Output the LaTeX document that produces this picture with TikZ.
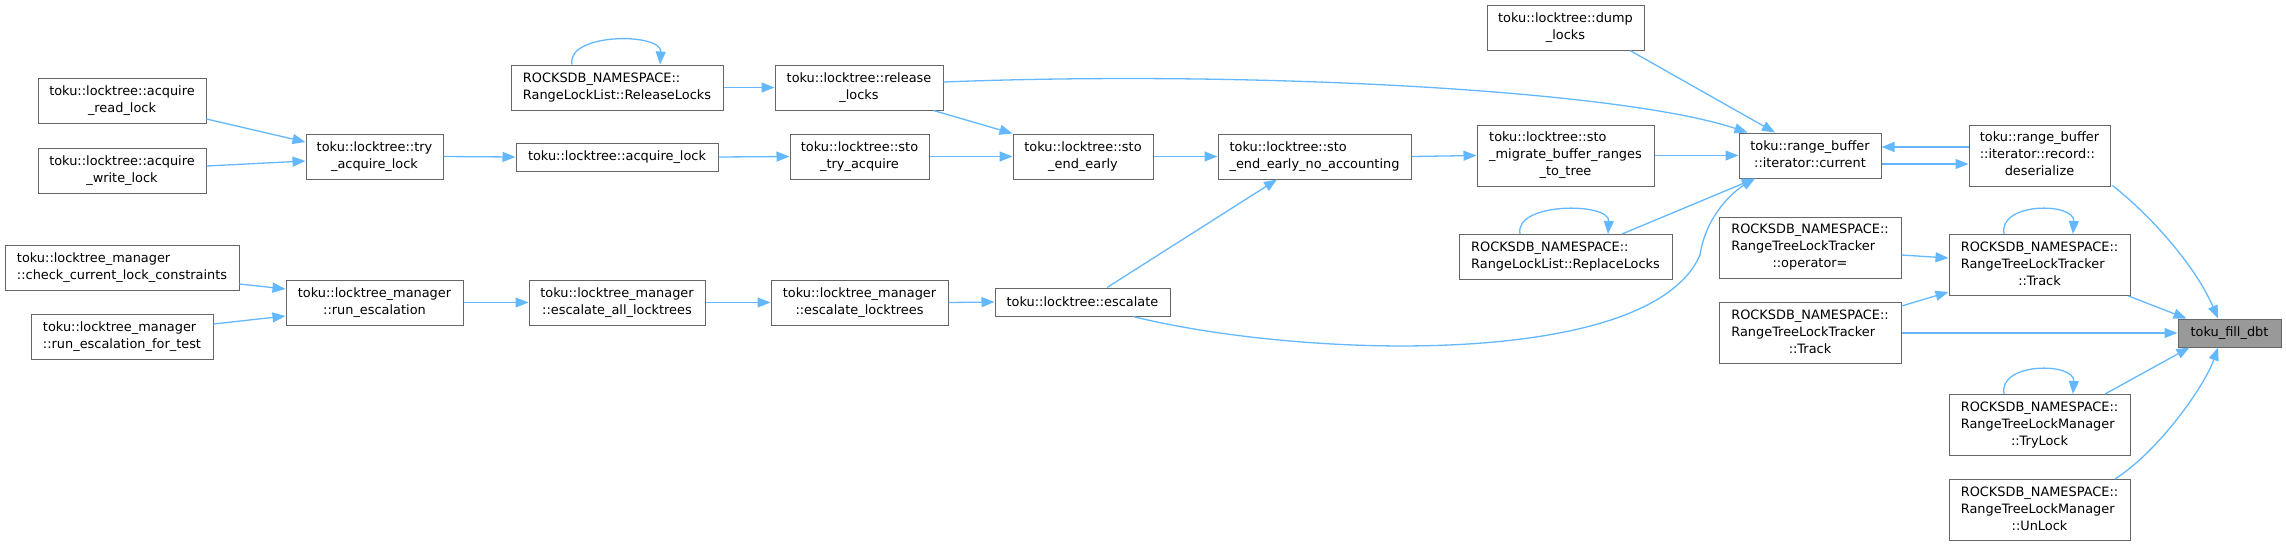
\documentclass[tikz,border=0pt]{standalone}
\usepackage{fontspec}
\setmainfont{DejaVu Sans}
\usepackage{xcolor}
\definecolor{cgink}{HTML}{000000}
\definecolor{cgrule}{HTML}{666666}
\definecolor{cghotfill}{HTML}{999999}
\definecolor{cgblue}{HTML}{63B8FF}
\usepackage{tikz}
\usetikzlibrary{arrows.meta,calc}
\newcommand{\twoln}[2]{\begin{tabular}{@{}l@{}}#1\\\multicolumn{1}{@{}c@{}}{#2}\end{tabular}}
\newcommand{\threeln}[3]{\begin{tabular}{@{}l@{}}#1\\#2\\\multicolumn{1}{@{}c@{}}{#3}\end{tabular}}
\tikzset{
  cgnode/.style ={rectangle, draw=cgrule, fill=white, line width=1pt, inner sep=0pt,
                  minimum height=45, text=cgink, font=\fontsize{12.9}{17}\selectfont},
  cgone/.style  ={cgnode, minimum height=28},
  cgthree/.style={cgnode, minimum height=61},
  cghot/.style  ={cgone, fill=cghotfill},
  cgedge/.style ={-{Triangle[length=13pt,width=10pt]}, line width=1.3pt, draw=cgblue},
}
\begin{document}
\begin{tikzpicture}[x=1pt,y=-1pt]
  \useasboundingbox (0,0) rectangle (2286,547);
  \node[cgnode, minimum width=168] (rdlock) at (122,100.5) {\twoln{toku::locktree::acquire}{\_read\_lock}};
  \node[cgnode, minimum width=168] (wrlock) at (122,170.5) {\twoln{toku::locktree::acquire}{\_write\_lock}};
  \node[cgnode, minimum width=137] (tryacq) at (374.5,156.5) {\twoln{toku::locktree::try}{\_acquire\_lock}};
  \node[cgnode, minimum width=234] (chkcur) at (122,267.5) {\twoln{toku::locktree\_manager}{::check\_current\_lock\_constraints}};
  \node[cgnode, minimum width=182] (runtest) at (122,336.5) {\twoln{toku::locktree\_manager}{::run\_escalation\_for\_test}};
  \node[cgnode, minimum width=177] (runesc) at (374.5,302.5) {\twoln{toku::locktree\_manager}{::run\_escalation}};
  \node[cgnode, minimum width=212] (rellist) at (617,87.5) {\twoln{ROCKSDB\_NAMESPACE::}{RangeLockList::ReleaseLocks}};
  \node[cgone, minimum width=202] (acqlock) at (617,157) {toku::locktree::acquire\_lock};
  \node[cgnode, minimum width=176] (escall) at (617,302.5) {\twoln{toku::locktree\_manager}{::escalate\_all\_locktrees}};
  \node[cgnode, minimum width=168] (rellocks) at (859,87.5) {\twoln{toku::locktree::release}{\_locks}};
  \node[cgnode, minimum width=139] (stotry) at (859.5,156.5) {\twoln{toku::locktree::sto}{\_try\_acquire}};
  \node[cgnode, minimum width=177] (esclt) at (859.5,302.5) {\twoln{toku::locktree\_manager}{::escalate\_locktrees}};
  \node[cgnode, minimum width=140] (stoend) at (1083,156.5) {\twoln{toku::locktree::sto}{\_end\_early}};
  \node[cgone, minimum width=175] (escal) at (1082.5,302) {toku::locktree::escalate};
  \node[cgnode, minimum width=193] (noacc) at (1314.5,156.5) {\twoln{toku::locktree::sto}{\_end\_early\_no\_accounting}};
  \node[cgnode, minimum width=157] (dump) at (1565.5,27.5) {\twoln{toku::locktree::dump}{\_locks}};
  \node[cgthree, minimum width=177] (migrate) at (1565.5,155.5) {\threeln{toku::locktree::sto}{\_migrate\_buffer\_ranges}{\_to\_tree}};
  \node[cgnode, minimum width=213] (repl) at (1565.5,257) {\twoln{ROCKSDB\_NAMESPACE::}{RangeLockList::ReplaceLocks}};
  \node[cgnode, minimum width=142] (current) at (1810,155.5) {\twoln{toku::range\_buffer}{::iterator::current}};
  \node[cgthree, minimum width=182] (opasg) at (1810,247.5) {\threeln{ROCKSDB\_NAMESPACE::}{RangeTreeLockTracker}{::operator=}};
  \node[cgthree, minimum width=182] (trklo) at (1810,333) {\threeln{ROCKSDB\_NAMESPACE::}{RangeTreeLockTracker}{::Track}};
  \node[cgthree, minimum width=141] (deser) at (2039.5,155.5) {\threeln{toku::range\_buffer}{::iterator::record::}{deserialize}};
  \node[cgthree, minimum width=181] (trkup) at (2039.5,265) {\threeln{ROCKSDB\_NAMESPACE::}{RangeTreeLockTracker}{::Track}};
  \node[cgthree, minimum width=181] (trylk) at (2039.5,425) {\threeln{ROCKSDB\_NAMESPACE::}{RangeTreeLockManager}{::TryLock}};
  \node[cgthree, minimum width=181] (unlk) at (2039.5,510) {\threeln{ROCKSDB\_NAMESPACE::}{RangeTreeLockManager}{::UnLock}};
  \node[cghot, minimum width=103] (fill) at (2229.5,333) {toku\_fill\_dbt};
  \draw[cgedge] ($(rdlock.east)+(0,18.5)$) -- ($(tryacq.west)+(0,-14.5)$);
  \draw[cgedge] ($(wrlock.east)+(0,-4.5)$) -- ($(tryacq.west)+(0,4.5)$);
  \draw[cgedge] (tryacq.east) -- (acqlock.west);
  \draw[cgedge] ($(chkcur.east)+(0,16.5)$) -- ($(runesc.west)+(0,-13.5)$);
  \draw[cgedge] ($(runtest.east)+(0,-12.5)$) -- ($(runesc.west)+(0,13.5)$);
  \draw[cgedge] (runesc.east) -- (escall.west);
  \draw[cgedge] (rellist.east) -- (rellocks.west);
  \draw[cgedge] ($(rellist.north)+(-45,0)$) .. controls +(-6,-32) and +(2,-32) .. ($(rellist.north)+(43,0)$);
  \draw[cgedge] (acqlock.east) -- (stotry.west);
  \draw[cgedge] (escall.east) -- (esclt.west);
  \draw[cgedge] ($(rellocks.south east)+(-10,0)$) -- (stoend.north west);
  \draw[cgedge] ($(rellocks.east)+(0,-5.5)$) .. controls (1250,70) and (1620,90) .. ($(current.north west)+(9,0)$);
  \draw[cgedge] (stotry.east) -- (stoend.west);
  \draw[cgedge] (esclt.east) -- (escal.west);
  \draw[cgedge] (stoend.east) -- (noacc.west);
  \draw[cgedge] ($(escal.north)+(24.5,0)$) -- ($(noacc.south)+(-37.5,0)$);
  \draw[cgedge] ($(escal.south)+(50.5,0)$) .. controls (1300,358) and (1650,370) .. (1700,255)
       .. controls (1706,215) and (1734,191) .. ($(current.south)+(-55,0)$);
  \draw[cgedge] (noacc.east) -- (migrate.west);
  \draw[cgedge] ($(dump.south)+(64.5,0)$) -- ($(current.north)+(-35,0)$);
  \draw[cgedge] (migrate.east) -- (current.west);
  \draw[cgedge] ($(repl.north)+(56.5,0)$) -- ($(current.south)+(-55,0)$);
  \draw[cgedge] ($(repl.north)+(-45.5,0)$) .. controls +(-6,-32) and +(2,-32) .. ($(repl.north)+(42.5,0)$);
  \draw[cgedge] ($(current.east)+(0,8.5)$) -- ($(deser.west)+(0,8.5)$);
  \draw[cgedge] ($(deser.west)+(0,-8.5)$) -- ($(current.east)+(0,-8.5)$);
  \draw[cgedge] ($(deser.south east)+(2,-1)$) .. controls (2150,215) and (2195,265) .. ($(fill.north)+(-11.5,0)$);
  \draw[cgedge] ($(opasg.east)+(0,7.5)$) -- ($(trkup.west)+(0,-7)$);
  \draw[cgedge] ($(trklo.east)+(0,-27)$) -- ($(trkup.west)+(0,27)$);
  \draw[cgedge] ($(trkup.north)+(-35.5,0)$) .. controls +(-6,-32) and +(2,-32) .. ($(trkup.north)+(33.5,0)$);
  \draw[cgedge] ($(trkup.south east)+(-2,0)$) -- ($(fill.north west)+(9,0)$);
  \draw[cgedge] (trklo.east) -- (fill.west);
  \draw[cgedge] ($(trylk.north)+(65.5,0)$) -- ($(fill.south west)+(12,0)$);
  \draw[cgedge] ($(trylk.north)+(-35.5,0)$) .. controls +(-6,-32) and +(2,-32) .. ($(trylk.north)+(33.5,0)$);
  \draw[cgedge] ($(unlk.north)+(75.5,0)$) .. controls (2160,450) and (2205,385) .. ($(fill.south)+(-11.5,0)$);
\end{tikzpicture}
\end{document}
